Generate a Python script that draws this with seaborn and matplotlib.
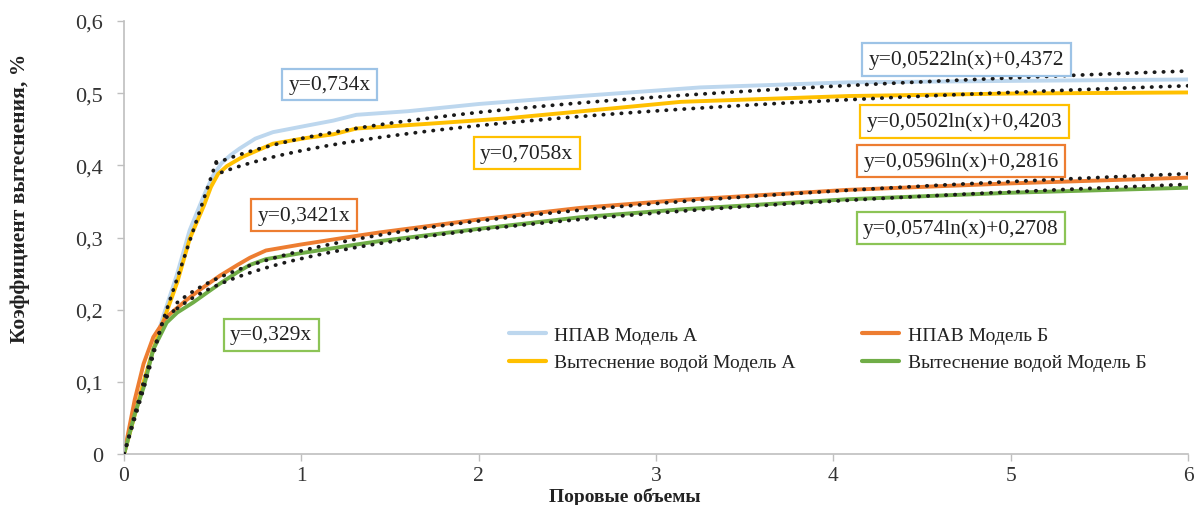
import numpy as np
import pandas as pd
import matplotlib
matplotlib.use("Agg")
import matplotlib.pyplot as plt
import seaborn as sns
from matplotlib.lines import Line2D

sns.set_theme(style="white")
plt.rcParams['font.family'] = ['Liberation Serif', 'DejaVu Serif']

# ---- data ----
names = ["НПАВ Модель А", "Вытеснение водой Модель А", "НПАВ Модель Б", "Вытеснение водой Модель Б"]
colors = ["#BDD7EE", "#FFC000", "#ED7D31", "#70AD47"]

blue_x = [0, 0.11, 0.22, 0.30, 0.37, 0.45, 0.50, 0.55, 0.60, 0.65, 0.74, 0.84, 1.03, 1.18, 1.31, 1.60, 2.0, 2.57, 3.25, 4.08, 5.0, 6.0]
blue_y = [0, 0.10, 0.19, 0.25, 0.31, 0.358, 0.385, 0.403, 0.414, 0.423, 0.437, 0.446, 0.455, 0.462, 0.470, 0.475, 0.485, 0.496, 0.508, 0.515, 0.517, 0.519]

yel_x = [0, 0.11, 0.165, 0.23, 0.30, 0.37, 0.45, 0.49, 0.53, 0.58, 0.67, 0.84, 1.03, 1.18, 1.31, 1.68, 2.15, 2.8, 3.14, 4.08, 5.0, 6.0]
yel_y = [0, 0.099, 0.145, 0.19, 0.238, 0.298, 0.344, 0.370, 0.388, 0.399, 0.412, 0.430, 0.438, 0.443, 0.451, 0.457, 0.465, 0.480, 0.488, 0.496, 0.4995, 0.501]

ora_x = [0, 0.06, 0.11, 0.165, 0.24, 0.35, 0.43, 0.54, 0.64, 0.71, 0.80, 0.99, 1.33, 1.44, 2.0, 2.57, 3.14, 4.08, 5.0, 6.0]
ora_y = [0, 0.075, 0.125, 0.162, 0.19, 0.213, 0.228, 0.247, 0.262, 0.272, 0.282, 0.290, 0.303, 0.307, 0.325, 0.341, 0.352, 0.366, 0.375, 0.383]

gre_x = [0, 0.06, 0.11, 0.165, 0.24, 0.30, 0.39, 0.47, 0.54, 0.64, 0.71, 0.80, 0.99, 1.33, 1.44, 2.0, 2.57, 3.14, 4.08, 5.0, 6.0]
gre_y = [0, 0.055, 0.092, 0.145, 0.182, 0.196, 0.210, 0.224, 0.236, 0.252, 0.262, 0.270, 0.278, 0.291, 0.295, 0.312, 0.328, 0.339, 0.353, 0.362, 0.369]

# linear trend segments (dotted)
linA_x = [0, 0.11, 0.22, 0.52]
linA_y = [0, 0.09, 0.185, 0.405]
linB_x = [0, 0.11, 0.22, 0.31]
linB_y = [0, 0.10, 0.185, 0.205]

# logarithmic trend lines: coefficients shown on the chart, and x ranges
log_a = [0.0522, 0.0502, 0.0596, 0.0574]
log_b = [0.4372, 0.4203, 0.2816, 0.2708]
log_x0 = [0.52, 0.55, 0.30, 0.30]

lin_labels = ["y=0,734x", "y=0,7058x", "y=0,3421x", "y=0,329x"]
log_labels = ["y=0,0522ln(x)+0,4372", "y=0,0502ln(x)+0,4203", "y=0,0596ln(x)+0,2816", "y=0,0574ln(x)+0,2708"]
box_colors = ["#9DC3E6", "#FFC000", "#ED7D31", "#8CC456"]

xticks = [0, 1, 2, 3, 4, 5, 6]
yticks = [0, 0.1, 0.2, 0.3, 0.4, 0.5, 0.6]
ytick_labels = ["0", "0,1", "0,2", "0,3", "0,4", "0,5", "0,6"]

# ---- figure ----
fig = plt.figure(figsize=(11.94, 5.06), dpi=100)
ax = fig.add_axes([0.1039, 0.1008, 0.8911, 0.8557])

series_x = [blue_x, yel_x, ora_x, gre_x]
series_y = [blue_y, yel_y, ora_y, gre_y]
frames = []
for n, xs, ys in zip(names, series_x, series_y):
    frames.append(pd.DataFrame({"x": xs, "y": ys, "s": n}))
df = pd.concat(frames, ignore_index=True)

sns.lineplot(data=df, x="x", y="y", hue="s", hue_order=names, palette=colors,
             sort=False, estimator=None, linewidth=2.8, legend=False, ax=ax, zorder=2)

dot_kw = dict(color="#1a1a1a", linewidth=2.7, linestyle=(0, (0.1, 2.3)),
              dash_capstyle="round", zorder=3)
for lx, ly in [(linA_x, linA_y), (linB_x, linB_y)]:
    sns.lineplot(x=lx, y=ly, sort=False, estimator=None, ax=ax, **dot_kw)
for a, b, x0 in zip(log_a, log_b, log_x0):
    xs = np.linspace(x0, 6, 200)
    sns.lineplot(x=xs, y=a * np.log(xs) + b, sort=False, estimator=None, ax=ax, **dot_kw)

# equation boxes
lin_pos = [(1.16, 0.512), (2.27, 0.417), (1.015, 0.331), (0.83, 0.165)]
log_pos = [(4.75, 0.547), (4.74, 0.461), (4.72, 0.406), (4.72, 0.313)]
for (px, py), t, c in zip(lin_pos + log_pos, lin_labels + log_labels, box_colors + box_colors):
    ax.text(px, py, t, ha="center", va="center", fontsize=15.5, color="#222222",
            bbox=dict(boxstyle="square,pad=0.3", fc="white", ec=c, lw=1.6), zorder=5)

ax.set_xlim(0, 6)
ax.set_ylim(0, 0.6)
ax.set_xticks(xticks)
ax.set_xticklabels([str(t) for t in xticks])
ax.set_yticks(yticks)
ax.set_yticklabels(ytick_labels)
ax.tick_params(axis="both", labelsize=16, labelcolor="#333333", length=5, width=1,
               direction="out", bottom=True, left=True, color="#BFBFBF")
ax.tick_params(axis="x", pad=4, labelsize=15.5)
ax.tick_params(axis="y", pad=10)
for s in ["top", "right"]:
    ax.spines[s].set_visible(False)
for s in ["left", "bottom"]:
    ax.spines[s].set_color("#BFBFBF")
    ax.spines[s].set_linewidth(1.2)

ax.set_xlabel("Поровые объемы", fontsize=14, fontweight="bold", color="#222222")
ax.xaxis.set_label_coords(0.471, -0.076)
ax.set_ylabel("Коэффициент вытеснения, %", fontsize=15.5, fontweight="bold", color="#222222")
ax.yaxis.set_label_coords(-0.088, 0.593)

handles = [Line2D([0], [0], color=c, lw=3) for c in colors]
leg = ax.legend(handles, names,
                ncol=2, frameon=False, fontsize=14, loc="upper left",
                bbox_to_anchor=(0.345, 0.335), columnspacing=3.4, handlelength=1.9,
                handletextpad=0.45, labelspacing=0.5)
for t in leg.get_texts():
    t.set_color("#222222")

fig.savefig("out.png", dpi=100)
